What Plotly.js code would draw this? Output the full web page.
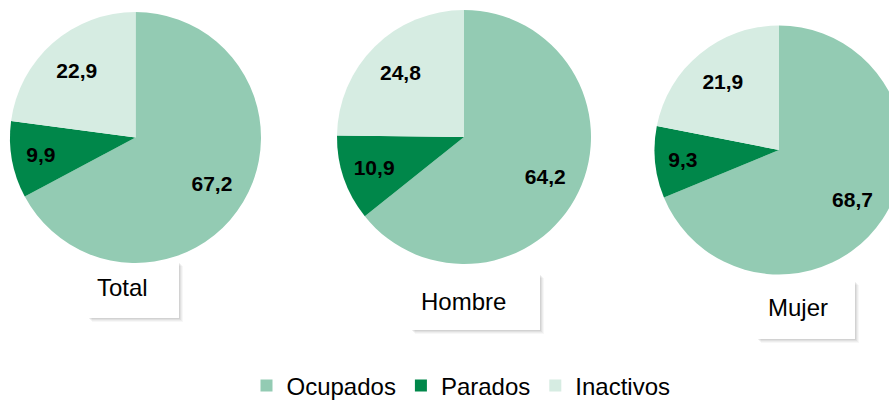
<!DOCTYPE html>
<html>
<head>
<meta charset="utf-8">
<script src="https://cdn.plot.ly/plotly-3.0.1.min.js"></script>
<style>
html,body{margin:0;padding:0;overflow:hidden;background:#fff;width:889px;height:401px;}
#chart{width:910px;height:440px;}
</style>
</head>
<body>
<div id="chart"></div>
<script>
const categories = ["Ocupados", "Parados", "Inactivos"];
const groups = ["Total", "Hombre", "Mujer"];
const totalValues = [67.2, 9.9, 22.9];
const hombreValues = [64.2, 10.9, 24.8];
const mujerValues = [68.7, 9.3, 21.9];
const colors = ["#93CBB3", "#00874A", "#D6ECE2"];

const W = 910, H = 440;
const px = x => x / W;
const py = y => 1 - y / H;

const domains = [
  {x: [px(10), px(261)], y: [py(263), py(12)]},
  {x: [px(337), px(591)], y: [py(264), py(10)]},
  {x: [px(654.5), px(903.5)], y: [py(274.5), py(25.5)]}
];
const seriesValues = [totalValues, hombreValues, mujerValues];

const fontFam = "Liberation Sans, Arial, sans-serif";

// filled pies (no text)
const pieTraces = seriesValues.map((vals, i) => ({
  type: "pie",
  name: groups[i],
  labels: categories,
  values: vals,
  sort: false,
  direction: "clockwise",
  rotation: 0,
  domain: domains[i],
  marker: {colors: colors, line: {width: 0}},
  textinfo: "none",
  hoverinfo: "skip",
  showlegend: i === 0
}));

// transparent ring carrying the value labels (places them toward the outer part of each slice)
const labelTraces = seriesValues.map((vals, i) => ({
  type: "pie",
  name: groups[i] + " etiquetas",
  labels: categories,
  values: vals,
  sort: false,
  direction: "clockwise",
  rotation: 0,
  hole: 0.42,
  domain: domains[i],
  marker: {colors: ["rgba(0,0,0,0)", "rgba(0,0,0,0)", "rgba(0,0,0,0)"], line: {width: 0}},
  textinfo: "value",
  texttemplate: "<b>%{value:.1f}</b>",
  textposition: "inside",
  insidetextorientation: "horizontal",
  textfont: {family: fontFam, size: 21, color: "#000"},
  hoverinfo: "skip",
  showlegend: false
}));

// label boxes (pixel geometry) with soft shadow
const boxes = [
  {x0: 88, x1: 179, y0: 262, y1: 318, tx: 122.5, ty: 287},
  {x0: 411, x1: 540, y0: 274, y1: 330, tx: 464, ty: 301},
  {x0: 757, x1: 855, y0: 281, y1: 339, tx: 797.5, ty: 307}
];
const shapes = [];
const annotations = [];
boxes.forEach((b, i) => {
  [[4, "rgba(0,0,0,0.03)"], [3, "rgba(0,0,0,0.04)"], [2, "rgba(0,0,0,0.05)"], [1, "rgba(0,0,0,0.06)"]].forEach(([o, c]) => {
    shapes.push({type: "rect", xref: "paper", yref: "paper", layer: "below",
      x0: px(b.x0 + o), x1: px(b.x1 + o), y0: py(b.y1 + o), y1: py(b.y0 + o),
      fillcolor: c, line: {width: 0}});
  });
  shapes.push({type: "rect", xref: "paper", yref: "paper", layer: "below",
    x0: px(b.x0), x1: px(b.x1), y0: py(b.y1), y1: py(b.y0),
    fillcolor: "#ffffff", line: {width: 0}});
  annotations.push({xref: "paper", yref: "paper", x: px(b.tx), y: py(b.ty),
    xanchor: "center", yanchor: "middle", showarrow: false, text: groups[i],
    font: {family: fontFam, size: 24, color: "#000"}});
});

const layout = {
  width: W, height: H,
  margin: {l: 0, r: 0, t: 0, b: 0},
  paper_bgcolor: "#fff",
  separators: ",.",
  showlegend: true,
  legend: {orientation: "h", x: px(461), xanchor: "center", y: py(386), yanchor: "middle",
    font: {family: fontFam, size: 24, color: "#000"},
    itemwidth: 30, tracegroupgap: 0},
  shapes: shapes,
  annotations: annotations,
  hovermode: false
};

Plotly.newPlot("chart", pieTraces.concat(labelTraces), layout, {displayModeBar: false, staticPlot: true});
</script>
</body>
</html>
